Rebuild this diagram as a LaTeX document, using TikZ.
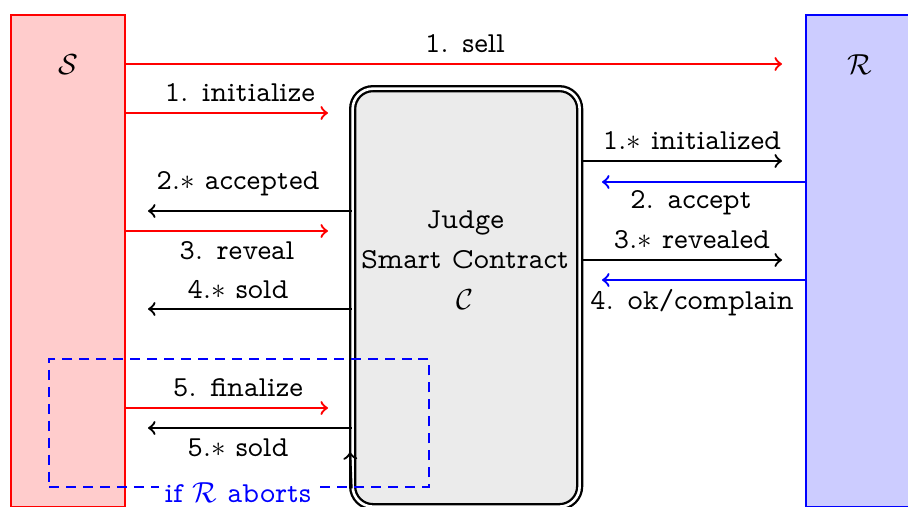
\documentclass[tikz,border=0pt]{standalone}
\usepackage{fontspec}
\setmainfont{lmmonoprop10-regular}[Extension=.otf]
\newcommand\pxunit{0.345pt}
\begin{document}
\begin{tikzpicture}[x=\pxunit,y=-\pxunit,
  party/.style={draw, thick, minimum width=114*\pxunit, minimum height=492*\pxunit, anchor=north west, inner sep=0},
  judgebox/.style={draw, double, thick, double distance=0.9pt, rounded corners=7pt, fill=black!8,
     minimum width=227*\pxunit, minimum height=418*\pxunit, anchor=north west, inner sep=0},
  msg/.style={thick, ->},
  lbl/.style={inner sep=1pt}]
\useasboundingbox (0,0) rectangle (908,507);

% the two parties and the judge contract
\node[party, draw=red, fill=red!20] (S) at (10,14) {};
\node[party, draw=blue, fill=blue!20, minimum width=130*\pxunit] (R) at (805,14) {};
\node[judgebox] (J) at (351.5,87.5) {};
\node at (68,65) (Sname) {$\mathcal{S}$};
\node at (860,65) (Rname) {$\mathcal{R}$};
\node[align=center] (Jtext) at (465,260) {Judge\\[2pt]Smart Contract\\[2pt]$\mathcal{C}$};

% message end points
\coordinate (sellEnd) at (782,64);
\coordinate (initEnd) at (328,113);
\coordinate (initdEnd) at (782,161);
\coordinate (accEnd) at (602,182);
\coordinate (accdEnd) at (148,211);
\coordinate (revEnd) at (328,231);
\coordinate (revdEnd) at (782,260);
\coordinate (okEnd) at (602,280);
\coordinate (soldEnd) at (148,309);
\coordinate (finEnd) at (328,408);
\coordinate (sold5End) at (148,428);

% messages
\draw[msg, red] (S.east |- sellEnd) -- (sellEnd);
\node[lbl] (l1) at (465,44) {1. sell};
\draw[msg, red] (S.east |- initEnd) -- (initEnd);
\node[lbl] (l2) at (240,93) {1. initialize};
\draw[msg] (J.east |- initdEnd) -- (initdEnd);
\node[lbl] (l3) at (692,141) {1.$*$ initialized};
\draw[msg, blue] (R.west |- accEnd) -- (accEnd);
\node[lbl] (l4) at (691,203) {2. accept};
\draw[msg] (J.west |- accdEnd) -- (accdEnd);
\node[lbl] (l5) at (238,184) {2.$*$ accepted};
\draw[msg, red] (S.east |- revEnd) -- (revEnd);
\node[lbl] (l6) at (237,251) {3. reveal};
\draw[msg] (J.east |- revdEnd) -- (revdEnd);
\node[lbl] (l7) at (692,240) {3.$*$ revealed};
\draw[msg, blue] (R.west |- okEnd) -- (okEnd);
\node[lbl] (l8) at (692,303) {4. ok/complain};
\draw[msg] (J.west |- soldEnd) -- (soldEnd);
\node[lbl] (l9) at (238,290) {4.$*$ sold};

% abort branch
\node[draw=blue, thick, dash pattern=on 3.45pt off 2.4pt, minimum width=380*\pxunit, minimum height=128*\pxunit,
      anchor=north west, inner sep=0] (abort) at (48,358) {};
\node[blue, fill=white, inner sep=2pt] (abortlbl) at (238,493) {if $\mathcal{R}$ aborts};
\draw[msg, red] (S.east |- finEnd) -- (finEnd);
\node[lbl] (l10) at (238,388) {5. finalize};
\draw[msg] (J.west |- sold5End) -- (sold5End);
\node[lbl] (l11) at (238,448) {5.$*$ sold};
\coordinate (tipEnd) at (350,452);
\draw[msg] (J.west |- abort.south) -- (tipEnd);
\end{tikzpicture}
\end{document}
